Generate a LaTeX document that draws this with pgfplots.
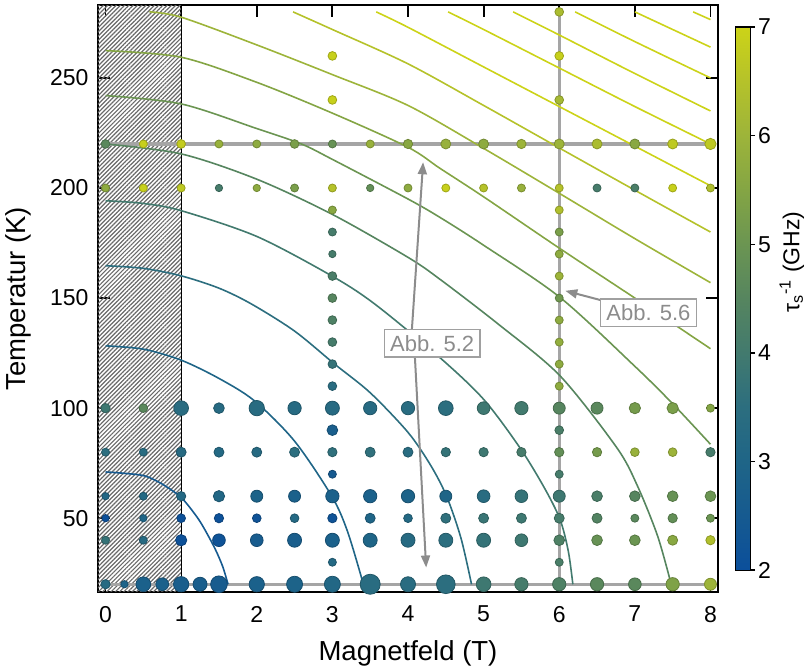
\documentclass[border=0pt]{standalone}
\usepackage{fontspec}
\setmainfont{Liberation Sans}
\usepackage{pgfplots}
\pgfplotsset{compat=1.18}
\usepackage{pgfplotstable}
\usetikzlibrary{patterns.meta,arrows.meta}

% contour level colours (same stops as the colormap, 2.5 ... 7.0)
\definecolor{lv25}{RGB}{22,90,144}
\definecolor{lv30}{RGB}{31,101,135}
\definecolor{lv35}{RGB}{44,110,127}
\definecolor{lv40}{RGB}{66,122,110}
\definecolor{lv45}{RGB}{86,133,95}
\definecolor{lv50}{RGB}{107,149,82}
\definecolor{lv55}{RGB}{132,165,68}
\definecolor{lv60}{RGB}{157,180,58}
\definecolor{lv65}{RGB}{181,194,42}
\definecolor{lv70}{RGB}{204,211,24}
\definecolor{guide}{RGB}{165,165,165}
\definecolor{annot}{RGB}{140,140,140}
\definecolor{annotbox}{RGB}{160,160,160}
\definecolor{hatch}{RGB}{105,105,105}

% measured spin relaxation rates: field B (T), temperature T (K), rate c (GHz), marker diameter d
\pgfplotstableread{
B T c d
0 20 3.3 9.3
0.25 20 2.9 7.3
0.5 20 2.8 14.7
0.75 20 2.8 12.7
1 20 2.7 15.3
1.25 20 2.7 14
1.5 20 2.6 16.7
2 20 2.8 15.3
2.5 20 2.9 16
3 20 3.1 16
3.5 20 3.4 20
4 20 3.4 15
4.5 20 3.5 18.7
5 20 3.9 14.7
5.5 20 4.1 13.3
6 20 4.3 13.3
6.5 20 4.6 13.3
7 20 4.6 12.7
7.5 20 5.4 13.3
8 20 6.0 12
3 30 3.2 8
6 30 4.2 8
0 40 3.7 8
0.5 40 3.3 8
1 40 2.1 11.3
1.5 40 2.2 12.7
2 40 2.6 12.7
2.5 40 2.7 14
3 40 2.8 14
3.5 40 3.0 14
4 40 3.3 14
4.5 40 3.5 14
5 40 3.7 14
5.5 40 3.9 12.7
6 40 4.3 10.7
6.5 40 4.9 10.7
7 40 5.0 10.7
7.5 40 5.6 10
8 40 6.4 9.3
0 50 2.05 7.3
0.5 50 3.0 7.3
1 50 2.1 8.7
1.5 50 2.1 9.3
2 50 2.2 8.7
2.5 50 3.2 8.7
3 50 2.2 9.3
3.5 50 3.0 10
4 50 3.2 8.7
4.5 50 3.6 10
5 50 3.8 10
5.5 50 3.9 10
6 50 4.1 10
6.5 50 4.4 10
7 50 4.6 8
7.5 50 4.8 9.3
8 50 5.0 8
0 60 3.1 7.3
0.5 60 3.2 8
1 60 3.2 9.3
1.5 60 3.1 11.3
2 60 2.9 12
2.5 60 2.8 12
3 60 2.8 13.3
3.5 60 2.8 13.3
4 60 2.9 13.3
4.5 60 3.0 12
5 60 3.4 12.7
5.5 60 3.7 12.7
6 60 3.9 12
6.5 60 4.2 10.7
7 60 4.5 10.7
7.5 60 4.9 10.7
8 60 5.0 10.7
3 70 2.5 8
6 70 4.1 8
0 80 3.5 8
0.5 80 3.4 8
1 80 3.3 10
1.5 80 3.2 10
2 80 3.3 10
2.5 80 3.5 10
3 80 3.6 9.3
3.5 80 3.6 10
4 80 3.4 10
4.5 80 3.7 9.3
5 80 3.9 9.3
5.5 80 4.1 9.3
6 80 4.8 9.3
6.5 80 5.2 9.3
7 80 5.9 8.7
7.5 80 6.0 8.7
8 80 4.1 9.3
3 90 2.7 10.7
6 90 4.2 8.7
0 100 3.9 9.3
0.5 100 4.6 8.7
1 100 3.4 14.7
1.5 100 3.3 10.7
2 100 3.35 15.3
2.5 100 3.3 13.3
3 100 3.3 14
3.5 100 3.3 13.3
4 100 3.4 13.3
4.5 100 3.5 14.7
5 100 3.9 12.7
5.5 100 4.0 13.3
6 100 4.5 12
6.5 100 4.6 12
7 100 5.2 11.3
7.5 100 5.3 11.3
8 100 5.5 8
3 110 3.4 8.7
3 120 3.7 8.7
3 130 4.1 8.7
3 140 4.3 8.7
3 150 4.5 8.7
3 160 4.2 8.7
3 170 4.1 7.3
3 180 4.1 8
3 190 5.6 8
3 240 6.9 8.7
3 260 6.9 8.7
6 110 5.7 8
6 120 5.7 8
6 130 5.8 8
6 140 5.7 8
6 150 5.1 8
6 160 6.0 8
6 170 5.7 8
6 180 5.3 8
6 190 6.4 8
6 240 6.2 8.7
6 260 6.9 8.7
6 280 6.3 8.7
0 200 5.7 8
0.5 200 6.9 8
1 200 6.7 8
1.5 200 4.1 7.3
2 200 5.7 7.3
2.5 200 5.3 8
3 200 6.5 8
3.5 200 4.8 7.3
4 200 5.7 8
4.5 200 6.9 8
5 200 6.5 8
5.5 200 5.9 8
6 200 6.5 8
6.5 200 4.1 8
7 200 4.2 8
7.5 200 6.9 8
8 200 6.4 8
0 220 4.6 8.7
0.5 220 6.9 8
1 220 6.8 8.7
1.5 220 5.9 8
2 220 5.7 8
2.5 220 5.3 8.7
3 220 4.9 8
3.5 220 5.9 8
4 220 5.6 9.3
4.5 220 5.9 10
5 220 5.7 10
5.5 220 6.0 9.3
6 220 6.0 10
6.5 220 6.3 10
7 220 5.6 10
7.5 220 6.7 10
8 220 6.7 11.3
}\spinrates

\begin{document}
\begin{tikzpicture}
\begin{axis}[
  scale only axis, width=310pt, height=293.3pt,
  xmin=-0.1, xmax=8.1, ymin=16.5, ymax=283,
  xtick={0,1,...,8}, ytick={50,100,150,200,250},
  tick align=inside, major tick length=6pt,
  every tick/.style={black, line width=0.9pt},
  axis line style={line width=0.9pt},
  /pgf/number format/assume math mode=true,
  ticklabel style={font=\fontsize{11.5}{13}\selectfont},
  xticklabel style={yshift=-3.5pt},
  yticklabel style={xshift=-1.2pt},
  xlabel={Magnetfeld (T)}, ylabel={Temperatur (K)},
  label style={font=\fontsize{13.75}{16}\selectfont},
  xlabel style={at={(axis description cs:0.5,-0.104)}, anchor=center},
  ylabel style={at={(axis description cs:-0.129,0.5)}, anchor=center},
  colormap={tau}{rgb255=(11,79,155) rgb255=(22,90,144) rgb255=(31,101,135)
    rgb255=(44,110,127) rgb255=(66,122,110) rgb255=(86,133,95)
    rgb255=(107,149,82) rgb255=(132,165,68) rgb255=(157,180,58)
    rgb255=(181,194,42) rgb255=(204,211,24)},
  point meta min=2, point meta max=7,
  colorbar,
  colorbar style={
    at={([xshift=9.5pt]parent axis.east)}, anchor=west,
    width=7.5pt, height=271.5pt,
    ytick={2,3,4,5,6,7},
    ytick pos=right, yticklabel pos=right,
    tick align=outside, major tick length=2.5pt,
    every tick/.style={black, line width=0.7pt},
    axis line style={line width=0.6pt},
    /pgf/number format/assume math mode=true,
    yticklabel style={font=\fontsize{11.5}{13}\selectfont, xshift=-2pt},
  },
]
% excluded low-field region
\fill[pattern={Lines[angle=45,distance=1.5pt,line width=0.6pt]}, pattern color=hatch]
  (axis cs:-0.1,10) rectangle (axis cs:1,290);
\draw[black, line width=0.5pt] (axis cs:1,10) -- (axis cs:1,290);

% measurement series guides
\addplot[guide, line width=1.6pt] coordinates {(0,220) (8,220)};
\addplot[guide, line width=1.6pt] coordinates {(0,20) (8,20)};
\addplot[guide, line width=1.6pt] coordinates {(6,20) (6,280)};

% measured rates
\addplot[scatter, only marks, mark=*, point meta=explicit,
  visualization depends on={\thisrow{d} \as \dia},
  scatter/@pre marker code/.append style={/tikz/mark size=\dia/4}]
  table[x=B, y=T, meta=c] {\spinrates};

% contour lines of the fitted rate
\addplot[lv25, line width=0.8pt, smooth] coordinates {(0,71.0) (0.25,70.4) (0.52,69.2) (0.75,65.5) (1.0,59.4) (1.2,51) (1.31,45.0) (1.45,36) (1.55,28) (1.62,20)};
\addplot[lv30, line width=0.8pt, smooth] coordinates {(0,128.3) (0.5,126.8) (1.0,121.8) (1.5,113.5) (1.97,103.3) (2.5,85) (2.99,60.1) (3.2,44) (3.41,20)};
\addplot[lv35, line width=0.8pt, smooth] coordinates {(0,164.7) (0.5,163.5) (1.0,160.1) (1.5,154.5) (1.93,147.3) (2.5,135) (3.03,120) (3.5,107) (4.0,89) (4.3,74) (4.51,60) (4.7,41) (4.84,20)};
\addplot[lv40, line width=0.8pt, smooth] coordinates {(0,194.2) (0.5,193) (1.0,189.7) (2.0,178) (2.99,160.1) (3.56,147.3) (4.42,123) (5.0,104) (5.48,82) (5.8,64) (6.01,49.5) (6.12,35) (6.18,20)};
\addplot[lv45, line width=0.8pt, smooth] coordinates {(0,220) (1,215.5) (2,204) (3,188) (4,168.5) (4.42,158.6) (5.2,138) (6.01,114.7) (6.76,82.1) (7.03,65) (7.3,42) (7.48,20)};
\addplot[lv50, line width=0.8pt, smooth] coordinates {(0,242) (1,238.2) (2,227) (2.59,220) (3,213) (4,195) (4.42,186.7) (5,174) (6.01,150.3) (7,119) (7.5,102) (8,83.6)};
\addplot[lv55, line width=0.8pt, smooth] coordinates {(0,262.4) (1,259.4) (2,248) (3,234) (4,218.5) (4.42,209) (5,196) (6,172.7) (7,150) (8,127)};
\addplot[lv60, line width=0.8pt, smooth] coordinates {(0.58,280) (1,277.6) (2,265) (3,251.5) (4,237.5) (5,218) (6,197.6) (7,177) (8,157)};
\addplot[lv65, line width=0.8pt, smooth] coordinates {(2.48,280) (3,272) (4,256.4) (5,237.5) (6,218.2) (7,199) (8,180)};
\addplot[lv70, line width=0.8pt, smooth] coordinates {(3.58,280) (4,273) (5,255) (6,237) (7,219) (8,201)};
\addplot[lv70, line width=0.8pt, smooth] coordinates {(4.53,280) (5,272) (6,254.5) (7,237) (8,220)};
\addplot[lv70, line width=0.8pt, smooth] coordinates {(5.39,280) (6,269.5) (7,252) (8,235)};
\addplot[lv70, line width=0.8pt, smooth] coordinates {(6.21,280) (7,266.5) (8,250)};
\addplot[lv70, line width=0.8pt] coordinates {(7,280) (8,264)};
\addplot[lv70, line width=0.8pt] coordinates {(7.77,280) (8,276.5)};

% figure references
\draw[annot, line width=1pt, -{Triangle[length=6pt,width=4.5pt]}] (axis cs:4.05,135) -- (axis cs:4.2,211.7);
\draw[annot, line width=1pt, -{Triangle[length=6pt,width=4.5pt]}] (axis cs:4.09,124) -- (axis cs:4.24,27.6);
\draw[annot, line width=1pt, -{Triangle[length=6pt,width=4.5pt]}] (axis cs:6.6,148.6) -- (axis cs:6.08,153.3);
\node[draw=annotbox, fill=white, text=annot, line width=0.6pt, inner sep=2.9pt,
  font=\fontsize{11}{13}\selectfont] at (axis cs:4.32,129.5) {Abb. 5.2};
\node[draw=annotbox, fill=white, text=annot, line width=0.6pt, inner sep=2.9pt,
  font=\fontsize{11}{13}\selectfont] at (axis cs:7.18,143.3) {Abb. 5.6};

\coordinate (bbSW) at (rel axis cs:-0.158,-0.1312);
\coordinate (bbNE) at (rel axis cs:1.1435,1.009);
\coordinate (cblab) at (rel axis cs:1.119,0.5625);
\end{axis}
\node[rotate=90, font=\fontsize{11.5}{13}\selectfont] at (cblab)
  {τ\textsubscript{s}\textsuperscript{-1} (GHz)};
\pgfresetboundingbox
\path[use as bounding box] (bbSW) rectangle (bbNE);
\end{tikzpicture}
\end{document}
